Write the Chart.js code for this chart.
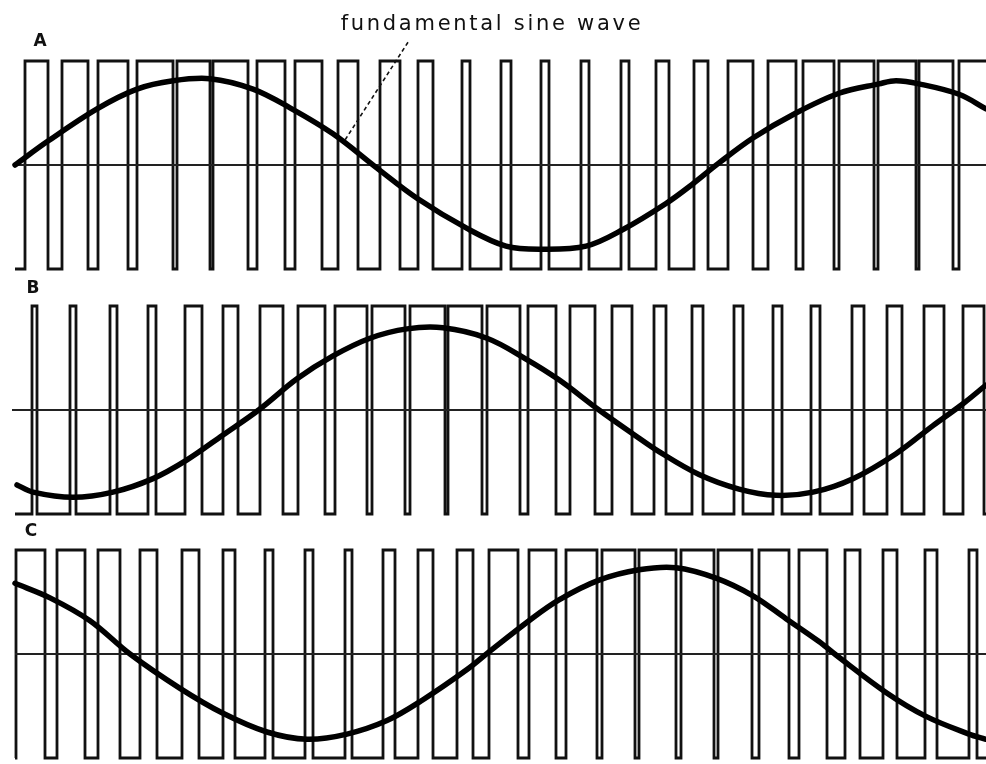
<!DOCTYPE html>
<html>
<head>
<meta charset="utf-8">
<script src="https://cdn.jsdelivr.net/npm/chart.js@4/dist/chart.umd.min.js"></script>
<style>
  html, body { margin: 0; padding: 0; background: #fff; }
  #wrap { position: relative; width: 986px; height: 764px; }
</style>
</head>
<body>
<div id="wrap"><canvas id="pwm"></canvas></div>
<script>
// Three-phase sinusoidal PWM: switched output of each phase leg (A, B, C)
// with its fundamental sine wave. Time axis t, levels normalised to +1 / -1.

const panelNames = ['A', 'B', 'C'];
const traceStart = [15, 15, 15];   // t where each switched trace begins (low level)
const traceEnd = 986;
const zeroLineStart = [15, 12, 15];

// switching instants; the level toggles at each one, starting from -1
const switchA = [25, 48, 62, 88, 98, 128, 137, 173, 177, 210, 213, 248, 257, 285, 295, 322,
  338, 358, 380, 400, 418, 433, 462, 470, 501, 511, 541, 549, 581, 589, 621, 629, 656, 669,
  694, 708, 728, 753, 768, 796, 803, 834, 839, 874, 878, 916, 919, 953, 959];
const switchB = [32, 37, 70, 76, 110, 117, 148, 156, 185, 202, 223, 238, 260, 283, 298, 325,
  335, 367, 372, 405, 410, 445, 448, 482, 487, 520, 528, 556, 570, 595, 612, 632, 654, 666,
  692, 703, 734, 743, 773, 782, 811, 820, 852, 864, 887, 902, 924, 944, 963, 984];
const switchC = [16, 45, 57, 85, 98, 120, 140, 157, 182, 199, 223, 235, 265, 273, 305, 313,
  345, 352, 383, 395, 418, 433, 457, 473, 489, 518, 529, 556, 566, 597, 602, 635, 639, 676,
  681, 714, 718, 752, 759, 789, 799, 827, 845, 860, 883, 897, 925, 937, 969, 977];

// fundamental sine waves (sampled)
const sineTimeA = [15, 48, 97, 137, 173, 210, 253, 290, 333, 377, 417, 467, 506, 541, 586, 623,
  666, 693, 719, 753, 796, 839, 879, 896, 919, 959, 986];
const sineA = [0.00, 0.23, 0.54, 0.73, 0.81, 0.83, 0.73, 0.55, 0.30, -0.03, -0.32, -0.61, -0.78,
  -0.81, -0.78, -0.62, -0.37, -0.18, 0.02, 0.26, 0.50, 0.69, 0.78, 0.81, 0.78, 0.68, 0.54];
const sineTimeB = [17, 33, 73, 113, 153, 187, 223, 260, 297, 333, 370, 407, 443, 487, 526, 559,
  599, 633, 659, 699, 739, 776, 813, 853, 896, 933, 963, 986];
const sineB = [-0.72, -0.79, -0.84, -0.79, -0.66, -0.48, -0.24, 0.01, 0.30, 0.52, 0.69, 0.78,
  0.79, 0.69, 0.49, 0.29, 0.00, -0.23, -0.40, -0.62, -0.76, -0.82, -0.79, -0.66, -0.42, -0.15,
  0.06, 0.24];
const sineTimeC = [15, 50, 90, 130, 180, 223, 267, 307, 347, 387, 423, 467, 489, 529, 559, 599,
  639, 676, 716, 753, 786, 819, 836, 886, 926, 969, 986];
const sineC = [0.68, 0.54, 0.32, 0.00, -0.33, -0.57, -0.75, -0.82, -0.77, -0.64, -0.44, -0.15,
  0.02, 0.32, 0.52, 0.71, 0.81, 0.83, 0.73, 0.56, 0.34, 0.12, -0.01, -0.37, -0.60, -0.77, -0.82];

const captionText = 'fundamental sine wave';
const captionAt = { t: 492, v: 1.30 };          // in panel A units
const leaderFrom = { t: 408, v: 1.18 };
const leaderTo = { t: 345, v: 0.24 };

// layout: pixel rows of the +1 and -1 levels for each panel
const H = 764;
const bands = [[61, 269], [306, 514], [550, 758]];
const axisIds = ['yA', 'yB', 'yC'];

function axisRange([top, bottom]) {
  const span = 2 * H / (bottom - top);
  const max = 1 + top * span / H;
  return { min: max - span, max };
}

function switchedTrace(start, times) {
  let level = -1;
  const pts = [{ x: start, y: level }];
  for (const t of times) {
    pts.push({ x: t, y: level });
    level = -level;
    pts.push({ x: t, y: level });
  }
  pts.push({ x: traceEnd, y: level });
  return pts;
}
const zip = (ts, vs) => ts.map((t, i) => ({ x: t, y: vs[i] }));

const switches = [switchA, switchB, switchC];
const sines = [zip(sineTimeA, sineA), zip(sineTimeB, sineB), zip(sineTimeC, sineC)];

const datasets = [];
panelNames.forEach((name, i) => {
  datasets.push({
    label: 'phase ' + name, yAxisID: axisIds[i], data: switchedTrace(traceStart[i], switches[i]),
    borderColor: '#111', borderWidth: 2.8, pointRadius: 0, tension: 0, order: 3,
    borderJoinStyle: 'miter', clip: false
  });
  datasets.push({
    label: 'zero ' + name, yAxisID: axisIds[i],
    data: [{ x: zeroLineStart[i], y: 0 }, { x: traceEnd, y: 0 }],
    borderColor: '#222', borderWidth: 2, pointRadius: 0, order: 2, clip: false
  });
  datasets.push({
    label: 'fundamental ' + name, yAxisID: axisIds[i], data: sines[i],
    borderColor: '#000', borderWidth: 5.5, pointRadius: 0, tension: 0.35,
    borderCapStyle: 'round', borderJoinStyle: 'round', order: 1, clip: false
  });
});

const scales = {
  x: { type: 'linear', min: 0, max: 986, display: false }
};
axisIds.forEach((id, i) => {
  scales[id] = Object.assign({ type: 'linear', display: false }, axisRange(bands[i]));
});

const annotations = {
  id: 'annotations',
  afterDatasetsDraw(chart) {
    const { ctx } = chart;
    const x = chart.scales.x;
    const yA = chart.scales.yA;
    ctx.save();
    ctx.fillStyle = '#111';
    ctx.strokeStyle = '#111';

    // panel letters
    ctx.font = 'bold 17px "DejaVu Sans", sans-serif';
    ctx.textAlign = 'center';
    ctx.textBaseline = 'middle';
    const letterPos = [[40, 1.19], [33, 1.17], [31, 1.18]];
    panelNames.forEach((name, i) => {
      const ys = chart.scales[axisIds[i]];
      ctx.fillText(name, x.getPixelForValue(letterPos[i][0]), ys.getPixelForValue(letterPos[i][1]));
    });

    // caption with its dashed leader to the sine wave
    ctx.font = '21px "DejaVu Sans", sans-serif';
    ctx.textBaseline = 'alphabetic';
    const natural = ctx.measureText(captionText).width;
    ctx.letterSpacing = ((300 - natural) / (captionText.length - 1)).toFixed(2) + 'px';
    ctx.fillText(captionText, x.getPixelForValue(captionAt.t), yA.getPixelForValue(captionAt.v));
    ctx.letterSpacing = '0px';

    ctx.setLineDash([4, 3]);
    ctx.lineWidth = 1.6;
    ctx.beginPath();
    ctx.moveTo(x.getPixelForValue(leaderFrom.t), yA.getPixelForValue(leaderFrom.v));
    ctx.lineTo(x.getPixelForValue(leaderTo.t), yA.getPixelForValue(leaderTo.v));
    ctx.stroke();
    ctx.restore();
  }
};

new Chart(document.getElementById('pwm'), {
  type: 'line',
  data: { datasets },
  options: {
    responsive: true,
    maintainAspectRatio: false,
    animation: false,
    events: [],
    layout: { padding: 0 },
    plugins: { legend: { display: false }, tooltip: { enabled: false }, title: { display: false } },
    scales
  },
  plugins: [annotations]
});
</script>
</body>
</html>
